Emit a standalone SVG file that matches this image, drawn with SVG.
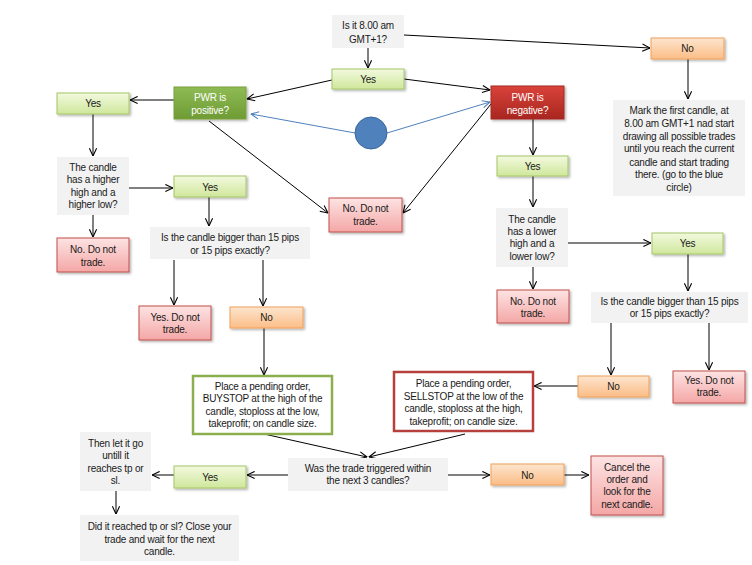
<svg xmlns="http://www.w3.org/2000/svg" width="752" height="565" viewBox="0 0 752 565">
<defs>
<marker id="ah" viewBox="0 0 10 10" refX="9.5" refY="5" markerWidth="9" markerHeight="9" markerUnits="userSpaceOnUse" orient="auto"><path d="M1,1 L9.5,5 L1,9" fill="none" stroke="#000" stroke-width="1.2"/></marker>
<marker id="ahb" viewBox="0 0 10 10" refX="9.5" refY="5" markerWidth="9" markerHeight="9" markerUnits="userSpaceOnUse" orient="auto"><path d="M1,1 L9.5,5 L1,9" fill="none" stroke="#4f81bd" stroke-width="1.2"/></marker>
<linearGradient id="gGreen" x1="0" y1="0" x2="0" y2="1"><stop offset="0" stop-color="#f3f9df"/><stop offset="1" stop-color="#cfe79b"/></linearGradient>
<linearGradient id="gOrange" x1="0" y1="0" x2="0" y2="1"><stop offset="0" stop-color="#fde5cf"/><stop offset="1" stop-color="#fbbd86"/></linearGradient>
<linearGradient id="gRed" x1="0" y1="0" x2="0" y2="1"><stop offset="0" stop-color="#fde3e3"/><stop offset="1" stop-color="#f4a7a6"/></linearGradient>
<linearGradient id="gDGreen" x1="0" y1="0" x2="0" y2="1"><stop offset="0" stop-color="#8fbb55"/><stop offset="1" stop-color="#6e9b33"/></linearGradient>
<linearGradient id="gDRed" x1="0" y1="0" x2="0" y2="1"><stop offset="0" stop-color="#d9433b"/><stop offset="1" stop-color="#a8261f"/></linearGradient>
<filter id="sh" x="-10%" y="-10%" width="130%" height="140%"><feDropShadow dx="1.5" dy="1.5" stdDeviation="1" flood-color="#000" flood-opacity="0.3"/></filter>
</defs>
<style>
.gray{fill:#f2f2f2}
.grn{fill:url(#gGreen);stroke:#a6c668;stroke-width:1;filter:url(#sh)}
.org{fill:url(#gOrange);stroke:#f0a05a;stroke-width:1;filter:url(#sh)}
.red{fill:url(#gRed);stroke:#c0504d;stroke-width:1;filter:url(#sh)}
.dgrn{fill:url(#gDGreen);stroke:#7aa03f;stroke-width:1;filter:url(#sh)}
.dred{fill:url(#gDRed);stroke:#a52a24;stroke-width:1;filter:url(#sh)}
.box2g{fill:#fff;stroke:#8cae4f;stroke-width:2.5}
.box2r{fill:#fff;stroke:#b5403c;stroke-width:2.5}
text{font-family:"Liberation Sans",Arial,sans-serif;font-size:10px;letter-spacing:-0.2px;fill:#1a1a1a;text-anchor:middle}
text.w{fill:#fff}
.c{stroke:#000;stroke-width:1;fill:none;marker-end:url(#ah)}
.cb{stroke:#4f81bd;stroke-width:1;fill:none;marker-end:url(#ahb)}
</style>
<rect width="752" height="565" fill="#fff"/>

<g id="connectors">
<path class="c" d="M368,48 L368,68"/>
<path class="c" d="M404,35 L650,48"/>
<path class="c" d="M332,80 L247,99"/>
<path class="c" d="M404,79 L490,90"/>
<path class="c" d="M174,100 L130,100"/>
<path class="c" d="M93,114 L93,156"/>
<path class="c" d="M129,188 L173,188"/>
<path class="c" d="M93,215 L93,237"/>
<path class="c" d="M209,197 L209,226"/>
<path class="c" d="M174,260 L174,305"/>
<path class="c" d="M263,260 L263,306"/>
<path class="c" d="M264,328 L264,375"/>
<path class="c" d="M264,434 L367,457"/>
<path class="c" d="M465,434 L369,457"/>
<path class="c" d="M288,475 L247,475"/>
<path class="c" d="M174,475 L152,475"/>
<path class="c" d="M116,491 L116,514"/>
<path class="c" d="M448,475 L490,475"/>
<path class="c" d="M564,475 L589,475"/>
<path class="c" d="M209,121 L328,213"/>
<path class="c" d="M491,104 L403,213"/>
<path class="c" d="M533,119 L533,155"/>
<path class="c" d="M533,176 L533,207"/>
<path class="c" d="M568,243 L651,243"/>
<path class="c" d="M533,267 L533,289"/>
<path class="c" d="M688,254 L688,291"/>
<path class="c" d="M611,323 L611,375"/>
<path class="c" d="M709,323 L709,370"/>
<path class="c" d="M578,386 L534,386"/>
<path class="c" d="M688,59 L688,99"/>
<path class="cb" d="M355,133 L251,114"/>
<path class="cb" d="M387,133 L490,102"/>
</g>

<g id="q_time"><rect class="gray" x="332" y="15" width="72" height="33"/><text x="368" y="28.5">Is it 8.00 am</text><text x="368" y="42.5">GMT+1?</text></g>
<g id="yes_top"><rect class="grn" x="332" y="69" width="72" height="20"/><text x="368" y="82.5">Yes</text></g>
<g id="pwr_pos"><rect class="dgrn" x="174" y="87" width="72" height="32"/><text class="w" x="210" y="100.5">PWR is</text><text class="w" x="210" y="114">positive?</text></g>
<g id="pwr_neg"><rect class="dred" x="491" y="86" width="73" height="33"/><text class="w" x="527.5" y="100.5">PWR is</text><text class="w" x="527.5" y="113.5">negative?</text></g>
<g id="circle"><circle cx="371" cy="133" r="16" fill="#4f81bd" stroke="#3a679b" stroke-width="1"/></g>

<g id="yes_l1"><rect class="grn" x="57" y="93" width="72" height="21"/><text x="93" y="107">Yes</text></g>
<g id="cand_hi"><rect class="gray" x="57" y="157" width="72" height="58"/><text x="93" y="170.5">The candle</text><text x="93" y="182.5">has a higher</text><text x="93" y="195.5">high and a</text><text x="93" y="207.5">higher low?</text></g>
<g id="yes_l2"><rect class="grn" x="174" y="176" width="72" height="21"/><text x="210" y="190.5">Yes</text></g>
<g id="nodo_l"><rect class="red" x="57" y="238" width="72" height="34"/><text x="93" y="252.5">No. Do not</text><text x="93" y="265.5">trade.</text></g>
<g id="pips_l"><rect class="gray" x="150" y="227" width="160" height="32"/><text x="230" y="240.5">Is the candle bigger than 15 pips</text><text x="230" y="253.5">or 15 pips exactly?</text></g>
<g id="yesdont_l"><rect class="red" x="139" y="306" width="72" height="34"/><text x="175" y="320.5">Yes. Do not</text><text x="175" y="332.5">trade.</text></g>
<g id="no_l"><rect class="org" x="230" y="307" width="73" height="21"/><text x="266.5" y="320.5">No</text></g>
<g id="buystop"><rect class="box2g" x="193" y="376" width="139" height="58"/><text x="262.5" y="389.5">Place a pending order,</text><text x="262.5" y="401.5">BUYSTOP at the high of the</text><text x="262.5" y="414.5">candle, stoploss at the low,</text><text x="262.5" y="426.5">takeprofit; on candle size.</text></g>
<g id="nodo_c"><rect class="red" x="329" y="198" width="73" height="34"/><text x="365.5" y="211.5">No. Do not</text><text x="365.5" y="224.5">trade.</text></g>

<g id="no_tr"><rect class="org" x="651" y="38" width="73" height="21"/><text x="687.5" y="51.5">No</text></g>
<g id="mark"><rect class="gray" x="613" y="100" width="132" height="96"/><text x="679" y="113.5">Mark the first candle, at</text><text x="679" y="126.5">8.00 am GMT+1 nad start</text><text x="679" y="139.5">drawing all possible trades</text><text x="679" y="151.5">until you reach the current</text><text x="679" y="165.5">candle and start trading</text><text x="679" y="177.5">there. (go to the blue</text><text x="679" y="190.5">circle)</text></g>
<g id="yes_r1"><rect class="grn" x="497" y="156" width="71" height="20"/><text x="532.5" y="169.5">Yes</text></g>
<g id="cand_lo"><rect class="gray" x="496" y="208" width="72" height="59"/><text x="532" y="222.5">The candle</text><text x="532" y="234.5">has a lower</text><text x="532" y="246.5">high and a</text><text x="532" y="259.5">lower low?</text></g>
<g id="yes_r2"><rect class="grn" x="652" y="233" width="71" height="21"/><text x="687.5" y="247">Yes</text></g>
<g id="nodo_r"><rect class="red" x="497" y="290" width="72" height="33"/><text x="533" y="304.5">No. Do not</text><text x="533" y="316.5">trade.</text></g>
<g id="pips_r"><rect class="gray" x="591" y="292" width="157" height="31"/><text x="669.5" y="304.5">Is the candle bigger than 15 pips</text><text x="669.5" y="316.5">or 15 pips exactly?</text></g>
<g id="no_r"><rect class="org" x="578" y="376" width="71" height="21"/><text x="613.5" y="389.5">No</text></g>
<g id="yesdont_r"><rect class="red" x="673" y="371" width="72" height="32"/><text x="709" y="383.5">Yes. Do not</text><text x="709" y="395.5">trade.</text></g>
<g id="sellstop"><rect class="box2r" x="394" y="372" width="139" height="59"/><text x="463.5" y="386.5">Place a pending order,</text><text x="463.5" y="399.5">SELLSTOP at the low of the</text><text x="463.5" y="411.5">candle, stoploss at the high,</text><text x="463.5" y="424.5">takeprofit; on candle size.</text></g>

<g id="triggered"><rect class="gray" x="288" y="458" width="160" height="33"/><text x="368" y="471.5">Was the trade triggered within</text><text x="368" y="483.5">the next 3 candles?</text></g>
<g id="yes_b"><rect class="grn" x="174" y="466" width="72" height="22"/><text x="210" y="480.5">Yes</text></g>
<g id="then"><rect class="gray" x="80" y="432" width="71" height="59"/><text x="115.5" y="446.5">Then let it go</text><text x="115.5" y="458.5">untill it</text><text x="115.5" y="471.5">reaches tp or</text><text x="115.5" y="483.5">sl.</text></g>
<g id="didit"><rect class="gray" x="80" y="515" width="159" height="46"/><text x="159.5" y="529.5">Did it reached tp or sl? Close your</text><text x="159.5" y="542.5">trade and wait for the next</text><text x="159.5" y="554.5">candle.</text></g>
<g id="no_b"><rect class="org" x="491" y="464" width="73" height="21"/><text x="527.5" y="478.5">No</text></g>
<g id="cancel"><rect class="red" x="591" y="456" width="72" height="59"/><text x="627" y="470.5">Cancel the</text><text x="627" y="482.5">order and</text><text x="627" y="494.5">look for the</text><text x="627" y="507.5">next candle.</text></g>
</svg>
